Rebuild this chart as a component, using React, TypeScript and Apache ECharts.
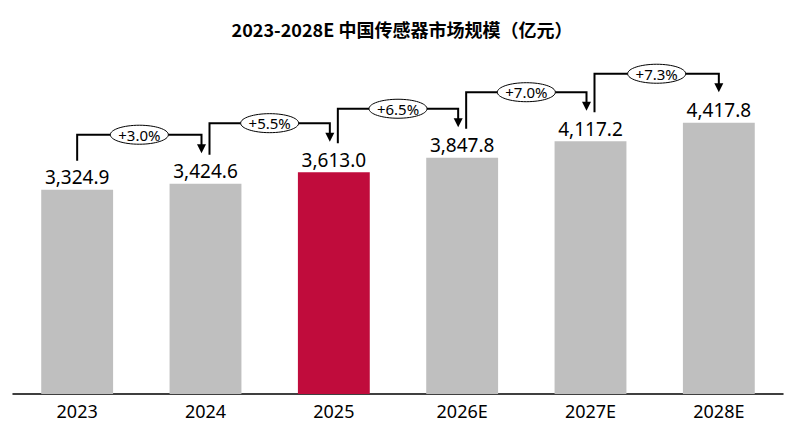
import React, { useEffect, useRef } from "react";
import * as echarts from "echarts";

const TITLE = "2023-2028E 中国传感器市场规模（亿元）";
const categories = ["2023", "2024", "2025", "2026E", "2027E", "2028E"];
const marketSize = [3324.9, 3424.6, 3613.0, 3847.8, 4117.2, 4417.8];
const growthLabels = ["+3.0%", "+5.5%", "+6.5%", "+7.0%", "+7.3%"];
const highlightCategory = "2025";

const GRAY = "#BFBFBF";
const RED = "#C00C3C";
const FONT = "Noto Sans";

export default function App() {
  const ref = useRef<HTMLDivElement>(null);

  useEffect(() => {
    if (!ref.current) return;
    const chart = echarts.init(ref.current, null, { renderer: "svg" });

    const barData = marketSize.map((v, i) => ({
      value: v,
      itemStyle: { color: categories[i] === highlightCategory ? RED : GRAY },
    }));

    const connectorData = growthLabels.map((g, i) => [i, i + 1, marketSize[i], marketSize[i + 1]]);

    const renderItem = (params: any, api: any) => {
      const i = params.dataIndex;
      const a = api.coord([i, marketSize[i]]);
      const b = api.coord([i + 1, marketSize[i + 1]]);
      const x1 = a[0] + (i === 0 ? 0 : 4);
      const x2 = b[0] - (i + 1 === marketSize.length - 1 ? 0 : 4);
      const yStart = a[1] - 29;
      const yLine = b[1] - 49;
      const yTip = b[1] - 30.5;
      const midX = (x1 + x2) / 2;
      return {
        type: "group",
        children: [
          {
            type: "polyline",
            shape: {
              points: [
                [x1, yStart],
                [x1, yLine],
                [x2, yLine],
                [x2, yTip - 8],
              ],
            },
            style: { stroke: "#000", lineWidth: 2, fill: null },
          },
          {
            type: "polygon",
            shape: {
              points: [
                [x2 - 4.5, yTip - 9],
                [x2 + 4.5, yTip - 9],
                [x2, yTip],
              ],
            },
            style: { fill: "#000", stroke: null },
          },
          {
            type: "ellipse",
            shape: { cx: midX, cy: yLine, rx: 29, ry: 9.5 },
            style: { fill: "#fff", stroke: "#000", lineWidth: 1 },
          },
          {
            type: "text",
            x: midX,
            y: yLine,
            style: {
              text: growthLabels[i],
              fill: "#000",
              fontSize: 15,
              fontFamily: FONT,
              align: "center",
              verticalAlign: "middle",
            },
          },
        ],
      };
    };

    chart.setOption({
      animation: false,
      backgroundColor: "#fff",
      title: {
        text: TITLE,
        left: "center",
        top: 20,
        padding: 0,
        textStyle: {
          fontSize: 18,
          fontWeight: "bold",
          color: "#000",
          fontFamily: "Noto Sans CJK SC",
        },
      },
      grid: { left: 13, right: 21, top: 87, bottom: 38, containLabel: false },
      xAxis: {
        type: "category",
        data: categories,
        axisLine: { show: true, lineStyle: { color: "#000", width: 1.5 } },
        axisTick: { show: false },
        axisLabel: { color: "#000", fontSize: 18, fontFamily: FONT, margin: 8 },
      },
      yAxis: {
        type: "value",
        min: 0,
        max: 5000,
        show: false,
        splitLine: { show: false },
      },
      series: [
        {
          type: "bar",
          data: barData,
          barWidth: "56%",
          label: {
            show: true,
            position: "top",
            distance: 3,
            color: "#000",
            fontSize: 19,
            fontFamily: FONT,
            formatter: (p: any) =>
              Number(p.value).toLocaleString("en-US", {
                minimumFractionDigits: 1,
                maximumFractionDigits: 1,
              }),
          },
        },
        {
          type: "custom",
          data: connectorData,
          encode: { x: [0, 1], y: [2, 3] },
          renderItem,
          z: 5,
          silent: true,
        },
      ],
    });

    return () => chart.dispose();
  }, []);

  return (
    <div
      ref={ref}
      style={{ position: "fixed", left: 0, top: 0, width: 804, height: 432, background: "#fff" }}
    />
  );
}
